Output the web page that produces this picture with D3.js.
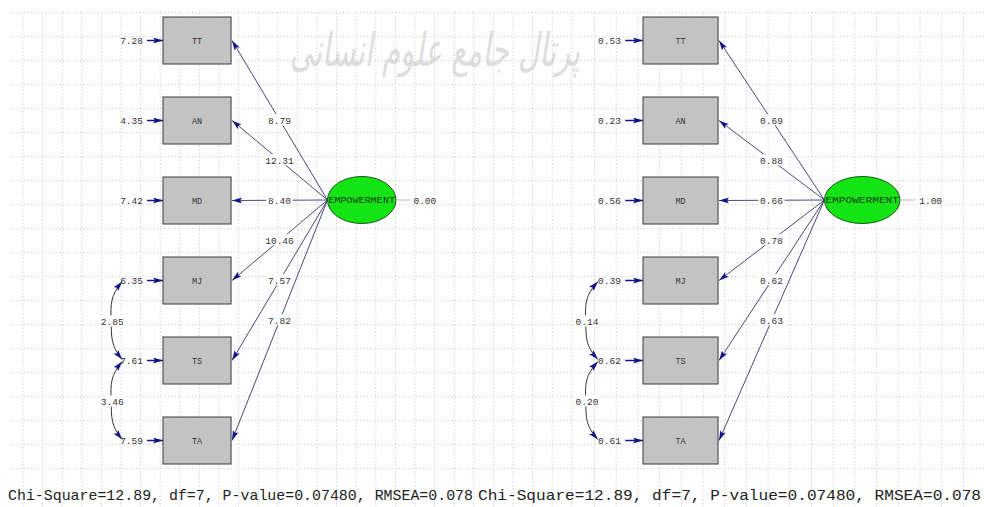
<!DOCTYPE html>
<html>
<head>
<meta charset="utf-8">
<script src="https://cdn.jsdelivr.net/npm/d3@7"></script>
<style>
  body { margin: 0; background: #fff; }
  svg { display: block; }
  text { font-family: "Liberation Mono", "DejaVu Sans Mono", monospace; }
</style>
</head>
<body>
<div id="app"></div>
<script>
// indicators (observed variables) and latent factor
const indicators = ['TT', 'AN', 'MD', 'MJ', 'TS', 'TA'];
const latent = 'EMPOWERMENT';

// left panel: t-values
const tErrors = ['7.28', '4.35', '7.42', '6.35', '7.61', '7.59'];
const tLoadings = ['8.79', '12.31', '8.40', '10.46', '7.57', '7.82'];
const tCovs = ['2.85', '3.46'];
const tLatent = '0.00';

// right panel: standardized solution
const sErrors = ['0.53', '0.23', '0.56', '0.39', '0.62', '0.61'];
const sLoadings = ['0.69', '0.88', '0.66', '0.78', '0.62', '0.63'];
const sCovs = ['0.14', '0.20'];
const sLatent = '1.00';

// error covariances: pairs of indicators
const covPairs = [['MJ', 'TS'], ['TS', 'TA']];

const fitText = 'Chi-Square=12.89, df=7, P-value=0.07480, RMSEA=0.078';

const W = 984, H = 507;

const svg = d3.select('#app').append('svg')
  .attr('width', W).attr('height', H);

const defs = svg.append('defs');
defs.append('marker')
  .attr('id', 'head')
  .attr('viewBox', '0 0 10 6')
  .attr('refX', 10).attr('refY', 3)
  .attr('markerWidth', 10).attr('markerHeight', 6)
  .attr('markerUnits', 'userSpaceOnUse')
  .attr('orient', 'auto-start-reverse')
  .append('path')
  .attr('d', 'M0,0 L10,3 L0,6 L2,3 Z')
  .attr('fill', '#14148a');

// grid (dotted)
const grid = svg.append('g');
const hLines = d3.range(12.7, 470, 24);
grid.selectAll('line.h').data(hLines).enter().append('line')
  .attr('x1', 10).attr('x2', W).attr('y1', d => d).attr('y2', d => d)
  .attr('stroke', '#d2d2d2').attr('stroke-dasharray', '1.5,2');
const vLines = d3.range(23, 582, 19.6).concat(d3.range(920 - 21.7 * 15, W, 21.7));
grid.selectAll('line.v').data(vLines).enter().append('line')
  .attr('x1', d => d).attr('x2', d => d).attr('y1', 12.7).attr('y2', H)
  .attr('stroke', '#d2d2d2').attr('stroke-dasharray', '1.5,2');

// faint watermark (stretched vertically)
svg.append('g')
  .attr('transform', 'translate(435,66) scale(1,1.6)')
  .append('text')
  .attr('text-anchor', 'middle')
  .style('font-family', '"DejaVu Sans", sans-serif')
  .style('font-size', '29px')
  .style('font-style', 'italic')
  .attr('fill', '#c4c4c4').attr('opacity', 0.55)
  .text('پرتال جامع علوم انسانی');

const y = d3.scalePoint().domain(indicators).range([40.5, 440.5]);

function drawPanel(x, errors, loadings, covs, latVal) {
  const g = svg.append('g');
  const boxH = 47;
  const lat = { cx: x(85.3), rx: x(100) - x(85.3), ry: 23.5, cy: y('MD') - 0.5 };

  // loadings
  indicators.forEach((ind, i) => {
    const x1 = x(100 - 2 * (100 - 85.3)), y1 = lat.cy;
    const x2 = x(29.2), y2 = y(ind);
    g.append('line')
      .attr('x1', x1).attr('y1', y1).attr('x2', x2 + 1).attr('y2', y2)
      .attr('stroke', '#4a4a78').attr('stroke-width', 1)
      .attr('marker-end', 'url(#head)');
  });

  // error arrows
  indicators.forEach((ind, i) => {
    g.append('line')
      .attr('x1', x(-6.9)).attr('x2', x(0)).attr('y1', y(ind)).attr('y2', y(ind))
      .attr('stroke', '#14148a').attr('stroke-width', 1.5)
      .attr('marker-end', 'url(#head)');
  });

  // error covariance curves
  covPairs.forEach((p, i) => {
    const tx = x(-17.5), bx = x(-22.5);
    const ya = y(p[0]) + 1, yb = y(p[1]) - 1;
    g.append('path')
      .attr('d', `M${tx},${ya} C${bx},${ya + 14} ${bx},${ya + 22} ${bx + 0.5},${(ya + yb) / 2} S${bx},${yb - 14} ${tx},${yb}`)
      .attr('fill', 'none').attr('stroke', '#333').attr('stroke-width', 1)
      .attr('marker-start', 'url(#head)').attr('marker-end', 'url(#head)');
  });

  // boxes
  g.selectAll('rect.box').data(indicators).enter().append('rect')
    .attr('x', x(0)).attr('y', d => y(d) - boxH / 2)
    .attr('width', x(29.2) - x(0)).attr('height', boxH)
    .attr('fill', '#c3c3c3').attr('stroke', '#3a3a3a').attr('stroke-width', 1);
  g.selectAll('text.box').data(indicators).enter().append('text')
    .attr('x', x(14.6)).attr('y', d => y(d) + 3)
    .attr('text-anchor', 'middle')
    .style('font-size', '8.5px').attr('fill', '#333')
    .text(d => d);

  // error values
  g.selectAll('text.err').data(errors).enter().append('text')
    .attr('x', x(-8.6)).attr('y', (d, i) => y(indicators[i]) + 3)
    .attr('text-anchor', 'end')
    .style('font-size', '9.5px').attr('fill', '#333')
    .text(d => d);

  // loading labels at midpoints
  loadings.forEach((v, i) => {
    const mx = (x(29.2) + x(70.8)) / 2;
    const my = (y(indicators[i]) + lat.cy) / 2;
    const w = v.length * 5.8 + 3;
    g.append('rect').attr('x', mx - w / 2).attr('y', my - 6).attr('width', w).attr('height', 11)
      .attr('fill', '#fff');
    g.append('text').attr('x', mx).attr('y', my + 3.5)
      .attr('text-anchor', 'middle')
      .style('font-size', '9.5px').attr('fill', '#333')
      .text(v);
  });

  // covariance labels
  covs.forEach((v, i) => {
    const mx = x(-21.8);
    const my = (y(covPairs[i][0]) + y(covPairs[i][1])) / 2 + 1;
    g.append('rect').attr('x', mx - 12).attr('y', my - 6).attr('width', 24).attr('height', 11)
      .attr('fill', '#fff');
    g.append('text').attr('x', mx).attr('y', my + 3.5)
      .attr('text-anchor', 'middle')
      .style('font-size', '9.5px').attr('fill', '#333')
      .text(v);
  });

  // latent variable
  g.append('ellipse')
    .attr('cx', lat.cx).attr('cy', lat.cy).attr('rx', lat.rx).attr('ry', lat.ry)
    .attr('fill', '#14e414').attr('stroke', '#0b5a0b').attr('stroke-width', 1);
  g.append('text')
    .attr('x', lat.cx - lat.rx + 1).attr('y', lat.cy + 3)
    .attr('textLength', 2 * lat.rx - 2).attr('lengthAdjust', 'spacingAndGlyphs')
    .style('font-size', '9px').attr('fill', '#1a3a1a')
    .text(latent);
  g.append('line')
    .attr('x1', x(100)).attr('x2', x(106)).attr('y1', lat.cy).attr('y2', lat.cy)
    .attr('stroke', '#bbb');
  g.append('text')
    .attr('x', x(107.5)).attr('y', lat.cy + 3.5)
    .style('font-size', '9.5px').attr('fill', '#333')
    .text(latVal);
}

const xLeft = d3.scaleLinear().domain([0, 100]).range([163, 396]);
const xRight = d3.scaleLinear().domain([0, 100]).range([643, 900]);

drawPanel(xLeft, tErrors, tLoadings, tCovs, tLatent);
drawPanel(xRight, sErrors, sLoadings, sCovs, sLatent);

// fit statistics
svg.append('text')
  .attr('x', 8).attr('y', 500)
  .attr('textLength', 465).attr('lengthAdjust', 'spacingAndGlyphs')
  .style('font-size', '15px').attr('fill', '#222')
  .text(fitText);
svg.append('text')
  .attr('x', 478).attr('y', 500)
  .attr('textLength', 503).attr('lengthAdjust', 'spacingAndGlyphs')
  .style('font-size', '15px').attr('fill', '#222')
  .text(fitText);
</script>
</body>
</html>
